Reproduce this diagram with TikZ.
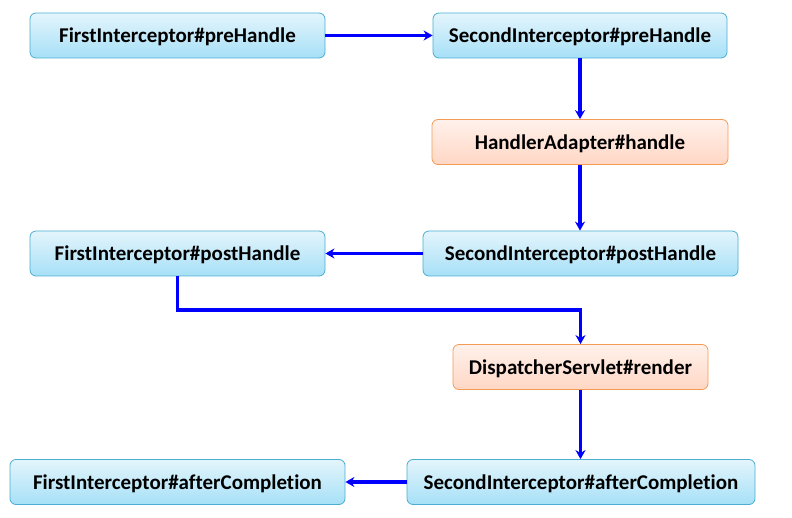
\documentclass[tikz,border=0pt]{standalone}
\usepackage{fontspec}
\setmainfont[Ligatures={NoCommon}]{Carlito}
\usetikzlibrary{arrows.meta}
\definecolor{bluetop}{HTML}{E4F5FC}
\definecolor{bluebot}{HTML}{A6E0F7}
\definecolor{blueedge}{HTML}{4BADD2}
\definecolor{orgtop}{HTML}{FFF1EB}
\definecolor{orgbot}{HTML}{FFD7C5}
\definecolor{orgedge}{HTML}{F39A55}
\begin{document}
\begin{tikzpicture}[x=1pt,y=-1pt,
  box/.style={rounded corners=6pt, minimum height=45pt, font=\fontsize{21}{24}\selectfont\bfseries, inner sep=0pt, text height=18pt, text depth=3pt},
  bluebox/.style={box, draw=blueedge, line width=0.8pt, top color=bluetop, bottom color=bluebot},
  orgbox/.style={box, draw=orgedge, line width=0.8pt, top color=orgtop, bottom color=orgbot},
  flow/.style={draw=blue, line width=3.2pt, -{Stealth[length=9pt,width=10pt]}}]
\useasboundingbox (0,0) rectangle (792,518);
\node[bluebox, minimum width=295pt] (a) at (177.5,35.5) {FirstInterceptor\#preHandle};
\node[bluebox, minimum width=294pt] (b) at (580,35.5) {SecondInterceptor\#preHandle};
\node[orgbox, minimum width=296pt] (c) at (580,142) {HandlerAdapter\#handle};
\node[bluebox, minimum width=295pt] (d) at (177.5,253.5) {FirstInterceptor\#postHandle};
\node[bluebox, minimum width=315pt] (e) at (580.5,253.5) {SecondInterceptor\#postHandle};
\node[orgbox, minimum width=255pt] (f) at (580.5,367) {DispatcherServlet\#render};
\node[bluebox, minimum width=335pt] (g) at (177.5,482) {FirstInterceptor\#afterCompletion};
\node[bluebox, minimum width=348pt] (h) at (581,482) {SecondInterceptor\#afterCompletion};
\coordinate (k1) at (177.5,310);
\coordinate (k2) at (580.5,310);
\draw[flow] (a) -- (b);
\draw[flow] (b) -- (c);
\draw[flow] (c) -- (c |- e.north);
\draw[flow] (e) -- (d);
\draw[flow, rounded corners=0pt] (d.south) -- (k1) -- (k2) -- (f.north);
\draw[flow] (f) -- (f |- h.north);
\draw[flow] (h) -- (g);
\end{tikzpicture}
\end{document}
